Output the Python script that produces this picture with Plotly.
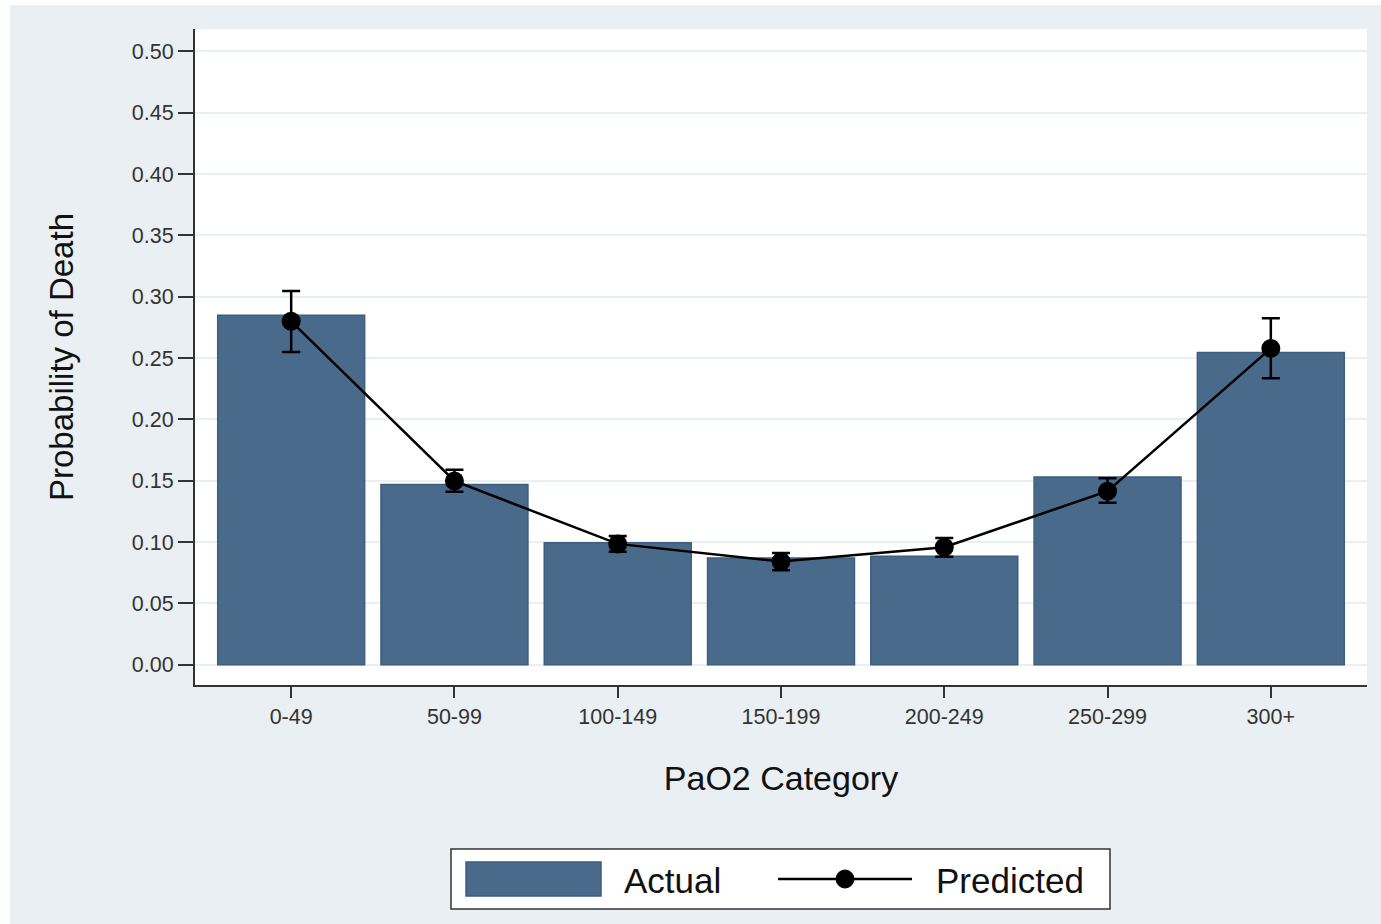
import plotly.graph_objects as go

# PaO2 categories and observed / model-predicted mortality
categories = ["0-49", "50-99", "100-149", "150-199", "200-249", "250-299", "300+"]
actual = [0.285, 0.147, 0.0995, 0.087, 0.0885, 0.153, 0.2545]
predicted = [0.280, 0.1498, 0.0985, 0.0841, 0.0958, 0.1415, 0.2579]
pred_upper = [0.3046, 0.159, 0.105, 0.091, 0.1034, 0.152, 0.2824]
pred_lower = [0.2549, 0.141, 0.092, 0.077, 0.088, 0.132, 0.2335]

y_ticks = [0.00, 0.05, 0.10, 0.15, 0.20, 0.25, 0.30, 0.35, 0.40, 0.45, 0.50]

BAR_FILL = "#4a6a8b"
BAR_EDGE = "#3d5e80"
REGION_BG = "#e9eff2"
GRID = "#e8f0f1"
FONT = "Liberation Sans, Arial, sans-serif"

W, H = 1381, 924
L, R, T, B = 195, 1367, 29, 685


def px(x):
    return (x - L) / (R - L)


def py(y):
    return (B - y) / (B - T)


err_plus = [u - p for u, p in zip(pred_upper, predicted)]
err_minus = [p - l for p, l in zip(predicted, pred_lower)]

fig = go.Figure()
fig.add_trace(go.Bar(
    x=categories, y=actual, name="Actual",
    marker=dict(color=BAR_FILL, line=dict(color=BAR_EDGE, width=1.5)),
    showlegend=False,
))
fig.add_trace(go.Scatter(
    x=categories, y=predicted, name="Predicted", mode="lines+markers",
    line=dict(color="black", width=2.5),
    marker=dict(color="black", size=19),
    error_y=dict(type="data", symmetric=False, array=err_plus, arrayminus=err_minus,
                 color="black", thickness=2.5, width=9),
    showlegend=False,
))

shapes = [
    # white edge strips around the graph region
    dict(type="rect", xref="paper", yref="paper", x0=px(0), x1=px(10), y0=py(H), y1=py(0),
         fillcolor="white", line=dict(width=0)),
    dict(type="rect", xref="paper", yref="paper", x0=px(0), x1=px(W), y0=py(5), y1=py(0),
         fillcolor="white", line=dict(width=0)),
    # legend frame
    dict(type="rect", xref="paper", yref="paper", x0=px(451), x1=px(1110), y0=py(909), y1=py(849),
         fillcolor="white", line=dict(color="#333333", width=1.5)),
    # legend key: bar swatch
    dict(type="rect", xref="paper", yref="paper", x0=px(466), x1=px(601), y0=py(896), y1=py(862),
         fillcolor=BAR_FILL, line=dict(color=BAR_EDGE, width=1.5)),
    # legend key: line with marker
    dict(type="line", xref="paper", yref="paper", x0=px(778), x1=px(912), y0=py(879), y1=py(879),
         line=dict(color="black", width=2.5)),
    dict(type="circle", xref="paper", yref="paper", x0=px(836), x1=px(854), y0=py(888), y1=py(870),
         fillcolor="black", line=dict(color="black", width=1)),
]

annotations = [
    dict(text="Actual", xref="paper", yref="paper", x=px(622), y=py(880), xanchor="left",
         yanchor="middle", showarrow=False, font=dict(family=FONT, size=35, color="#111111")),
    dict(text="Predicted", xref="paper", yref="paper", x=px(934), y=py(880), xanchor="left",
         yanchor="middle", showarrow=False, font=dict(family=FONT, size=35, color="#111111")),
]

fig.update_layout(
    width=W, height=H,
    margin=dict(l=L, r=W - R, t=T, b=H - B, pad=0),
    paper_bgcolor=REGION_BG,
    plot_bgcolor="white",
    bargap=0.1,
    font=dict(family=FONT, color="#333333"),
    shapes=shapes,
    annotations=annotations,
    xaxis=dict(
        type="category", range=[-0.589, 6.589],
        showline=True, linecolor="#333333", linewidth=2,
        ticks="outside", ticklen=11, tickwidth=2, tickcolor="#333333",
        showgrid=False, zeroline=False,
        tickfont=dict(family=FONT, size=21.5, color="#333333"),
        title=dict(text="PaO2 Category", standoff=38,
                   font=dict(family=FONT, size=34, color="#111111")),
    ),
    yaxis=dict(
        range=[-0.01655, 0.5183],
        tickvals=y_ticks, tickformat=".2f",
        showline=True, linecolor="#333333", linewidth=2,
        ticks="outside", ticklen=15, tickwidth=2, tickcolor="#333333",
        showgrid=True, gridcolor=GRID, gridwidth=1.5, zeroline=False,
        tickfont=dict(family=FONT, size=21.5, color="#333333"),
        title=dict(text="Probability of Death", standoff=48,
                   font=dict(family=FONT, size=33, color="#111111")),
    ),
)

fig.write_html("out.html")
